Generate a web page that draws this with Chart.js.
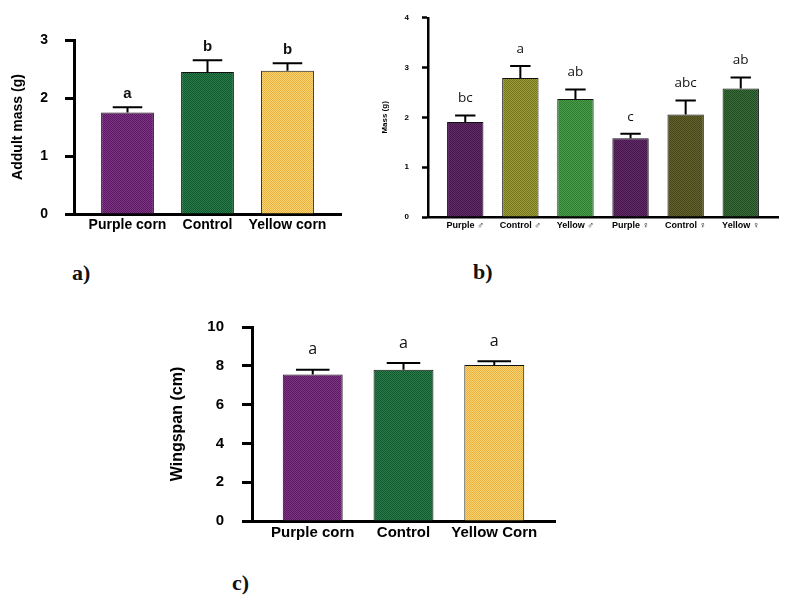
<!DOCTYPE html>
<html>
<head>
<meta charset="utf-8">
<script src="https://cdn.jsdelivr.net/npm/chart.js@4.4.1/dist/chart.umd.min.js"></script>
<style>
  body { margin: 0; background: #fff; }
  #page { position: relative; width: 800px; height: 596px; overflow: hidden; background: #fff; }
  canvas { position: absolute; }
  .tag { position: absolute; font-family: "Liberation Serif", serif; font-weight: bold; font-size: 22px; line-height: 1; color: #111; }
</style>
</head>
<body>
<div id="page">
  <canvas id="chartA" width="360" height="250" style="left:0;top:0"></canvas>
  <canvas id="chartB" width="420" height="240" style="left:380px;top:0"></canvas>
  <canvas id="chartC" width="420" height="250" style="left:160px;top:300px"></canvas>
  <div class="tag" style="left:72px;top:262px">a)</div>
  <div class="tag" style="left:473px;top:261px">b)</div>
  <div class="tag" style="left:232px;top:572px">c)</div>
</div>
<script>
// --- panel a: adult mass
const labelsA = ["Purple corn", "Control", "Yellow corn"];
const massA = [1.75, 2.45, 2.47];
const massTopA = [1.84, 2.65, 2.60];
const lettersA = ["a", "b", "b"];
const ticksA = [0, 1, 2, 3];

// --- panel b: mass by sex
const labelsB = ["Purple \u2642", "Control \u2642", "Yellow \u2642", "Purple \u2640", "Control \u2640", "Yellow \u2640"];
const massB = [1.91, 2.79, 2.37, 1.58, 2.06, 2.58];
const massTopB = [2.04, 3.03, 2.56, 1.67, 2.34, 2.80];
const lettersB = ["bc", "a", "ab", "c", "abc", "ab"];
const ticksB = [0, 1, 2, 3, 4];

// --- panel c: wingspan
const labelsC = ["Purple corn", "Control", "Yellow Corn"];
const wingC = [7.55, 7.80, 8.04];
const wingTopC = [7.79, 8.14, 8.24];
const lettersC = ["a", "a", "a"];
const ticksC = [0, 2, 4, 6, 8, 10];

Chart.defaults.color = "#000";
Chart.defaults.font.family = "'Liberation Sans', Arial, sans-serif";

// small checker tile so bars get the dotted print texture
function dotted(base, dot) {
  const c = document.createElement("canvas");
  c.width = 2; c.height = 2;
  const g = c.getContext("2d");
  g.fillStyle = base; g.fillRect(0, 0, 2, 2);
  g.fillStyle = dot; g.fillRect(1, 0, 1, 1); g.fillRect(0, 1, 1, 1);
  return g.createPattern(c, "repeat");
}

const purple = dotted("#5a1860", "#7e3686");
const green = dotted("#115a2f", "#2b7b4a");
const yellow = dotted("#e6b13e", "#fad473");

const colorsB = [
  dotted("#47164d", "#5f2c67"),
  dotted("#76761c", "#9c9c3c"),
  dotted("#2c7d2f", "#4b9d4a"),
  dotted("#47164d", "#5f2c67"),
  dotted("#464618", "#63632f"),
  dotted("#214b23", "#3a6c3a"),
];

function errorPlugin(tops, letters, font, gap, lw) {
  return {
    id: "errs",
    afterDatasetsDraw(chart) {
      const ctx = chart.ctx;
      const ys = chart.scales.y;
      const meta = chart.getDatasetMeta(0);
      ctx.save();
      ctx.strokeStyle = "#000";
      ctx.fillStyle = "#111";
      ctx.lineWidth = lw;
      ctx.font = font;
      ctx.textAlign = "center";
      ctx.textBaseline = "middle";
      meta.data.forEach((bar, i) => {
        const yt = ys.getPixelForValue(tops[i]);
        const cap = bar.width * 0.28;
        ctx.beginPath();
        ctx.moveTo(bar.x, bar.y);
        ctx.lineTo(bar.x, yt);
        ctx.moveTo(bar.x - cap, yt);
        ctx.lineTo(bar.x + cap, yt);
        ctx.stroke();
        ctx.fillText(letters[i], bar.x, yt - gap);
      });
      ctx.restore();
    },
  };
}

function makeChart(id, cfg) {
  const n = cfg.labels.length;
  return new Chart(document.getElementById(id), {
    type: "bar",
    data: {
      datasets: [{
        data: cfg.values.map((v, i) => ({ x: i, y: v })),
        backgroundColor: cfg.colors,
        borderColor: "#111",
        borderWidth: 1,
        borderSkipped: "bottom",
        barPercentage: 0.66,
        categoryPercentage: 1,
      }],
    },
    options: {
      responsive: false,
      animation: false,
      events: [],
      layout: { padding: { left: 0, top: cfg.top, right: cfg.right, bottom: 0 } },
      plugins: { legend: { display: false }, tooltip: { enabled: false } },
      scales: {
        x: {
          type: "linear",
          offset: false,
          bounds: "data",
          min: -cfg.edge,
          max: n - 1 + cfg.edge,
          afterBuildTicks: (s) => { s.ticks = cfg.labels.map((_, i) => ({ value: i })); },
          afterFit: (s) => { s.height = cfg.xh; },
          grid: { display: false, drawTicks: false, offset: false },
          border: { display: true, color: "#000", width: cfg.lw },
          ticks: {
            autoSkip: false, maxRotation: 0, minRotation: 0,
            padding: cfg.xpad,
            font: { size: cfg.xfont, weight: "bold" },
            callback: (v) => cfg.labels[v],
          },
        },
        y: {
          min: 0,
          max: cfg.yticks[cfg.yticks.length - 1],
          afterBuildTicks: (s) => { s.ticks = cfg.yticks.map((v) => ({ value: v })); },
          afterFit: (s) => { s.width = cfg.yw; },
          grid: {
            drawOnChartArea: false, drawTicks: true,
            tickLength: cfg.tickLen, color: "#000", tickWidth: cfg.lw,
          },
          border: { display: true, color: "#000", width: cfg.lw },
          ticks: { padding: cfg.ypad, font: { size: cfg.yfont, weight: "bold" } },
          title: {
            display: true, text: cfg.title,
            font: { size: cfg.tfont, weight: "bold" },
            padding: { top: cfg.tpad, bottom: 0 },
          },
        },
      },
    },
    plugins: [errorPlugin(cfg.tops, cfg.letters, cfg.lfont, cfg.gap, cfg.elw)],
  });
}

makeChart("chartA", {
  labels: labelsA, values: massA, tops: massTopA, letters: lettersA, yticks: ticksA,
  colors: [purple, green, yellow], title: "Addult mass (g)",
  top: 40, right: 19, xh: 36, yw: 74, edge: 0.669, lw: 3,
  tickLen: 9, ypad: 17, yfont: 14, xfont: 14, xpad: 3, tfont: 14, tpad: 10,
  lfont: "bold 15px 'Liberation Sans', Arial, sans-serif", gap: 13, elw: 2,
});

makeChart("chartB", {
  labels: labelsB, values: massB, tops: massTopB, letters: lettersB, yticks: ticksB,
  colors: colorsB, title: "Mass (g)",
  top: 11, right: 22, xh: 23, yw: 48, edge: 0.676, lw: 2.5,
  tickLen: 6, ypad: 13, yfont: 8, xfont: 9, xpad: 3, tfont: 8, tpad: 0,
  lfont: "13.5px 'Open Sans', 'Noto Sans', sans-serif", gap: 17, elw: 2,
});

makeChart("chartC", {
  labels: labelsC, values: wingC, tops: wingTopC, letters: lettersC, yticks: ticksC,
  colors: [purple, green, yellow], title: "Wingspan (cm)",
  top: 23, right: 25, xh: 29, yw: 92, edge: 0.669, lw: 3,
  tickLen: 10, ypad: 18, yfont: 15, xfont: 15, xpad: 3, tfont: 16, tpad: 8,
  lfont: "16px 'Open Sans', 'Noto Sans', sans-serif", gap: 20, elw: 2,
});
</script>
</body>
</html>
